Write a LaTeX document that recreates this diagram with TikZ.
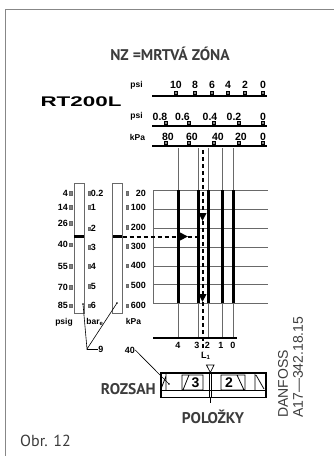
\documentclass[tikz,border=0pt]{standalone}
\usepackage{fontspec}
\setmainfont{Liberation Sans}
\newfontfamily\myriad{PT Sans}
\usetikzlibrary{arrows.meta}

\definecolor{framegray}{RGB}{135,135,135}
\definecolor{inkgray}{RGB}{60,60,60}
\definecolor{gridgray}{RGB}{105,105,105}

\tikzset{
  scalenum/.style={font=\bfseries\fontsize{10.5}{10.5}\selectfont, inner sep=0pt},
  unitlbl/.style={font=\bfseries\fontsize{8.5}{8.5}\selectfont, inner sep=0pt},
  barnum/.style={font=\bfseries\fontsize{9}{9}\selectfont, inner sep=0pt},
  tickmark/.style={draw=black, fill=gray, line width=.5pt, minimum size=3pt, inner sep=0pt},
  smalltick/.style={draw=gridgray, fill=gray, line width=.4pt, minimum width=2.5pt, minimum height=3.5pt, inner sep=0pt},
  caption/.style={font=\myriad\bfseries\fontsize{15.5}{15.5}\selectfont, text=inkgray, inner sep=0pt},
  thickrule/.style={line width=2pt},
  gridline/.style={draw=gridgray, line width=.8pt},
  markline/.style={line width=2pt, dash pattern=on 4pt off 3pt},
  marktip/.style={-{Triangle[length=8pt, width=7.5pt]}},
  bar/.style={draw=gridgray, line width=.8pt, minimum width=10pt, minimum height=130pt, inner sep=0pt},
}

\begin{document}
\begin{tikzpicture}[x=1pt, y=-1pt]
\useasboundingbox (0,0) rectangle (334,456);
\draw[framegray, line width=1.6pt] (5.5,456) -- (5.5,9.5) -- (334,9.5);

\node[caption] (title) at (170,54) {NZ =MRTVÁ ZÓNA};
\node[font=\bfseries\fontsize{14}{14}\selectfont, xscale=1.6, inner sep=0pt] (model) at (81,102) {RT200L};

% top scales
\node[unitlbl] (psiA) at (136.5,85) {psi};
\draw[thickrule] (152,95.5) -- (267,95.5);
\foreach \x/\c/\v in {176/176/10,195/195/8,212/212/6,228/228/4,245/245/2,263/263/0}{
  \node[tickmark] at (\x,93) {};
  \node[scalenum] at (\c,84.5) {\v};
}
\node[unitlbl] (psiB) at (136.5,116.5) {psi};
\draw[thickrule] (152,125.5) -- (267,125.5);
\foreach \x/\c/\v in {166/160/0.8,189/182.5/0.6,214/210/0.4,239/234/0.2,263/263/0}{
  \node[tickmark] at (\x,123) {};
  \node[scalenum] at (\c,116.5) {\v};
}
\node[unitlbl] (kpaA) at (137.5,137) {kPa};
\draw[thickrule] (152,145.5) -- (267,145.5);
\foreach \x/\c/\v in {166/168/80,189/192/60,214/218/40,239/241/20,263/263/0}{
  \node[tickmark] at (\x,143) {};
  \node[scalenum] at (\c,137) {\v};
}

% grid
\foreach \y in {190,209,228,247,266,284,303}
  \draw[gridline] (153,\y) -- (268,\y);
\draw[gridline] (153,190) -- (153,303);
\foreach \x in {178,198,208,222,233}{
  \draw[gridline] (\x,148) -- (\x,338);
  \draw[line width=3pt] (\x,190) -- (\x,303);
}
\draw[thickrule] (153,338) -- (237,338);
\foreach \x/\v in {178/4,197/3,207.5/2,221/1,233/0}
  \node[barnum] at (\x,345.5) {\v};

% left bars
\node[bar] (psigbar) at (79,248) {};
\node[bar, minimum width=9.5pt] (kpabar) at (117.5,248) {};
\fill (74,235) rectangle (84,238);
\fill (112.75,235) rectangle (122.25,238);
\foreach \y/\v in {193/4,207/14,223/26,244.5/40,266/55,287/70,305.5/85}{
  \node[barnum, anchor=east] at (68,\y) {\v};
  \node[smalltick] at (70.5,\y) {};
}
\foreach \y/\v in {193/0.2,207/1,228.5/2,247/3,266/4,286/5,305.5/6}{
  \node[smalltick] at (89,\y) {};
  \node[barnum, anchor=west] at (90.7,\y) {\v};
}
\foreach \y/\v in {193/20,207/100,227/200,246/300,265.5/400,285.5/500,305.5/600}{
  \node[smalltick] at (127,\y) {};
  \node[barnum, anchor=east] at (146,\y) {\v};
}
\node[unitlbl, anchor=base] (psig) at (64,324.5) {psig};
\node[unitlbl, anchor=base] (bare) at (95,324.5) {bar\textsubscript{e}};
\node[unitlbl, anchor=base] (kpa) at (133.5,324.5) {kPa};

% marker lines
\coordinate (barMark) at (122.5,236.5);
\coordinate (hArrow) at (188,236.5);
\coordinate (mMid) at (202.5,236.5);
\coordinate (mTop) at (202.5,150);
\coordinate (mA) at (202.5,221);
\coordinate (mB) at (202.5,302);
\coordinate (mEnd) at (202.5,351);
\draw[markline, marktip] (barMark) -- (hArrow);
\draw[markline] (hArrow) -- (mMid);
\draw[markline, marktip] (mTop) -- (mA);
\draw[markline, marktip] (mA) -- (mB);
\draw[markline] (mB) -- (mEnd);
\node[barnum, anchor=west] (lone) at (201,356) {L\textsubscript{1}};

% leaders
\coordinate (dotA) at (83,304);
\coordinate (dotB) at (117,303);
\coordinate (lead9) at (87,349);
\node[barnum] (nine) at (101,349) {9};
\draw[line width=.6pt] (dotA) -- (lead9) -- (dotB);
\draw[line width=.6pt] (lead9) -- (nine.west);
\fill (dotA) circle (.9pt) (dotB) circle (.9pt);
\node[barnum] (forty) at (130,350) {40};
\coordinate (dotC) at (169,384);
\draw[line width=.6pt] (forty.east) -- (dotC);
\fill (dotC) circle (.9pt);

% range box
\draw[line width=1.6pt] (161,373) rectangle (266,397.5);
\draw[line width=1pt] (161,390) -- (266,390);
\draw[line width=.8pt] (166,373) -- (166,390) (161,389) -- (166,376);
\draw[line width=.8pt] (182,375) rectangle (203,390) (183,390) -- (189,375);
\node[font=\bfseries\fontsize{14}{14}\selectfont, inner sep=0pt] (three) at (195.5,382.5) {3};
\draw[line width=.8pt] (221,375) rectangle (245,390) (237,375) -- (244,390);
\node[font=\bfseries\fontsize{14}{14}\selectfont, inner sep=0pt] (two) at (229,382.5) {2};
\draw[line width=.8pt] (255,373) -- (255,390) (256,375) -- (264,389);
\draw[line width=.6pt] (209,373) -- (209,397) (211.5,373) -- (211.5,397);
\draw[line width=.8pt] (210.3,397) -- (210.3,403);
\draw[fill=white, line width=.7pt] (206.5,365) -- (214,365) -- (210.3,372.5) -- cycle;

\node[caption, anchor=east] (range) at (156,389) {ROZSAH};
\node[caption] (items) at (213,417) {POLOŽKY};

\node[rotate=90, anchor=west, font=\fontsize{14}{14}\selectfont, text=inkgray, inner sep=0pt] (maker) at (283,418) {DANFOSS};
\node[rotate=90, anchor=west, font=\fontsize{14}{14}\selectfont, text=inkgray, inner sep=0pt] (code) at (298,418) {A17—342.18.15};

\node[font=\myriad\fontsize{16}{16}\selectfont, text=inkgray, anchor=west, inner sep=0pt] (fig) at (20,441) {Obr. 12};
\end{tikzpicture}
\end{document}
